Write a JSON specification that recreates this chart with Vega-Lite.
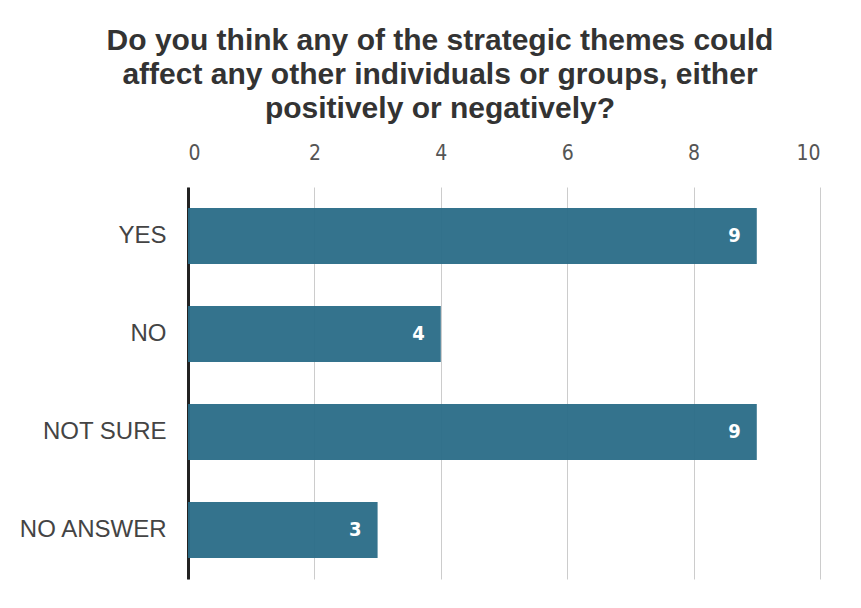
{
  "$schema": "https://vega.github.io/schema/vega-lite/v6.json",
  "width": 632,
  "height": 392,
  "autosize": {"type": "none"},
  "padding": {"left": 188, "top": 187, "right": 41, "bottom": 29},
  "background": "white",
  "title": {
    "text": ["Do you think any of the strategic themes could", "affect any other individuals or groups, either", "positively or negatively?"],
    "font": "Liberation Sans",
    "fontSize": 30,
    "fontWeight": "bold",
    "color": "#333333",
    "lineHeight": 34,
    "anchor": "middle",
    "dx": -64,
    "offset": 18
  },
  "data": {
    "values": [
      {"answer": "YES", "count": 9},
      {"answer": "NO", "count": 4},
      {"answer": "NOT SURE", "count": 9},
      {"answer": "NO ANSWER", "count": 3}
    ]
  },
  "config": {
    "view": {"stroke": null}
  },
  "encoding": {
    "y": {
      "field": "answer",
      "type": "nominal",
      "sort": null,
      "scale": {"paddingInner": 0.43, "paddingOuter": 0.215},
      "axis": {
        "title": null,
        "ticks": false,
        "labelFont": "Liberation Sans",
        "labelFontSize": 24,
        "labelColor": "#444444",
        "labelPadding": 22,
        "domainColor": "#222222",
        "domainWidth": 3
      }
    },
    "x": {
      "field": "count",
      "type": "quantitative",
      "scale": {"domain": [0, 10]},
      "axis": {
        "orient": "top",
        "title": null,
        "values": [0, 2, 4, 6, 8, 10],
        "ticks": false,
        "domain": false,
        "labelFont": "DejaVu Sans Condensed",
        "labelFontSize": 21,
        "labelColor": "#555555",
        "labelPadding": 24,
        "gridColor": "#cccccc",
        "gridWidth": 1
      }
    }
  },
  "layer": [
    {"mark": {"type": "bar", "color": "#296c87", "opacity": 0.95}},
    {
      "mark": {"type": "text", "align": "right", "dx": -16, "color": "white", "fontWeight": "bold", "fontSize": 20, "font": "DejaVu Sans Condensed"},
      "encoding": {"text": {"field": "count", "type": "quantitative"}}
    }
  ]
}
